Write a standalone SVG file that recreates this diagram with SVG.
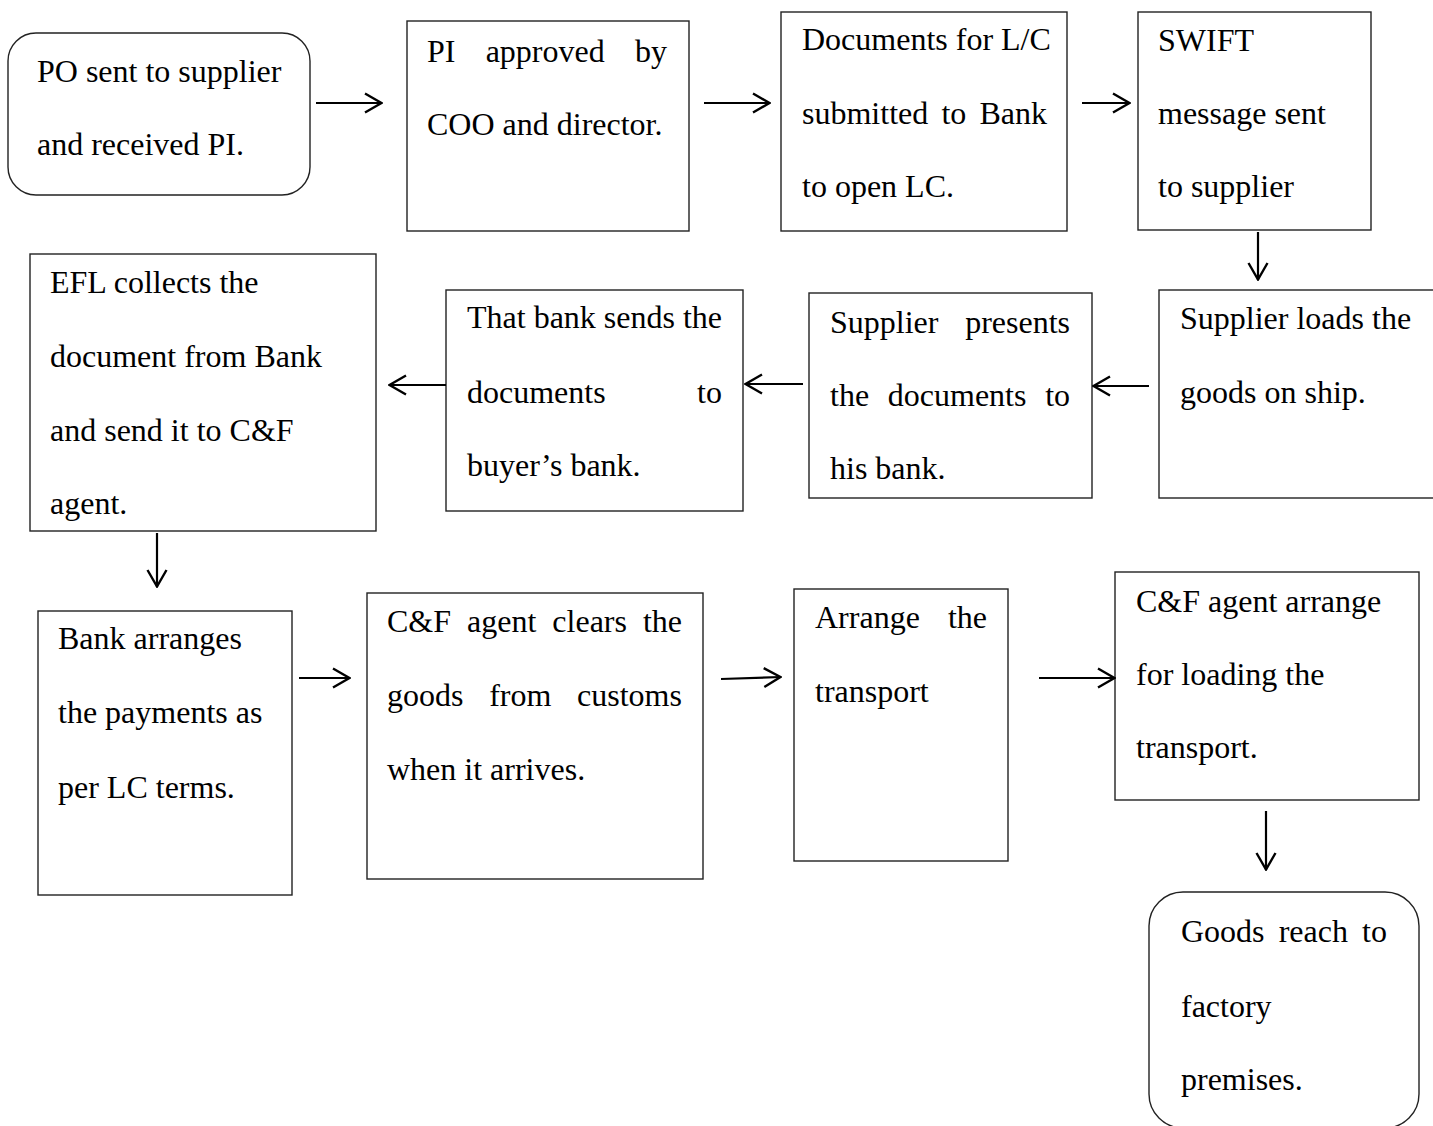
<svg xmlns="http://www.w3.org/2000/svg" width="1433" height="1126" viewBox="0 0 1433 1126">
<style>
.box{fill:#fff;stroke:#222;stroke-width:1.4}
.t{font-family:"Liberation Serif","Times New Roman",serif;font-size:32px;fill:#000}
.c{stroke:#000;stroke-width:2.2;fill:none;marker-end:url(#ah)}
</style>
<defs>
<marker id="ah" viewBox="0 0 20 22" refX="19" refY="11" markerWidth="20" markerHeight="22" markerUnits="userSpaceOnUse" orient="auto">
<path d="M2,1.5 L18.5,11 L2,20.5" fill="none" stroke="#000" stroke-width="2.4"/>
</marker>
</defs>
<rect width="1433" height="1126" fill="#fff"/>

<g id="n1"><rect class="box" x="8" y="33" width="302" height="162" rx="28"/>
<text class="t" x="37" y="82">PO sent to supplier</text>
<text class="t" x="37" y="155">and received PI.</text></g>

<g id="n2"><rect class="box" x="407" y="21" width="282" height="210"/>
<text class="t" x="427" y="62" word-spacing="22.2">PI approved by</text>
<text class="t" x="427" y="135">COO and director.</text></g>

<g id="n3"><rect class="box" x="781" y="12" width="286" height="219"/>
<text class="t" x="802" y="50">Documents for L/C</text>
<text class="t" x="802" y="124" word-spacing="5.2">submitted to Bank</text>
<text class="t" x="802" y="197">to open LC.</text></g>

<g id="n4"><rect class="box" x="1138" y="12" width="233" height="218"/>
<text class="t" x="1158" y="51">SWIFT</text>
<text class="t" x="1158" y="124">message sent</text>
<text class="t" x="1158" y="197">to supplier</text></g>

<g id="n5"><rect class="box" x="1159" y="290" width="290" height="208"/>
<text class="t" x="1180" y="329">Supplier loads the</text>
<text class="t" x="1180" y="403">goods on ship.</text></g>

<g id="n6"><rect class="box" x="809" y="293" width="283" height="205"/>
<text class="t" x="830" y="333" word-spacing="18.7">Supplier presents</text>
<text class="t" x="830" y="406" word-spacing="10.7">the documents to</text>
<text class="t" x="830" y="479">his bank.</text></g>

<g id="n7"><rect class="box" x="446" y="290" width="297" height="221"/>
<text class="t" x="467" y="328">That bank sends the</text>
<text class="t" x="467" y="403" word-spacing="83.4">documents to</text>
<text class="t" x="467" y="476">buyer’s bank.</text></g>

<g id="n8"><rect class="box" x="30" y="254" width="346" height="277"/>
<text class="t" x="50" y="293">EFL collects the</text>
<text class="t" x="50" y="367">document from Bank</text>
<text class="t" x="50" y="441">and send it to C&amp;F</text>
<text class="t" x="50" y="514">agent.</text></g>

<g id="n9"><rect class="box" x="38" y="611" width="254" height="284"/>
<text class="t" x="58" y="649">Bank arranges</text>
<text class="t" x="58" y="723">the payments as</text>
<text class="t" x="58" y="798">per LC terms.</text></g>

<g id="n10"><rect class="box" x="367" y="593" width="336" height="286"/>
<text class="t" x="387" y="632" word-spacing="8">C&amp;F agent clears the</text>
<text class="t" x="387" y="706" word-spacing="17.7">goods from customs</text>
<text class="t" x="387" y="780">when it arrives.</text></g>

<g id="n11"><rect class="box" x="794" y="589" width="214" height="272"/>
<text class="t" x="815" y="628" word-spacing="20.1">Arrange the</text>
<text class="t" x="815" y="702">transport</text></g>

<g id="n12"><rect class="box" x="1115" y="572" width="304" height="228"/>
<text class="t" x="1136" y="612">C&amp;F agent arrange</text>
<text class="t" x="1136" y="685">for loading the</text>
<text class="t" x="1136" y="758">transport.</text></g>

<g id="n13"><rect class="box" x="1149" y="892" width="270" height="236" rx="34"/>
<text class="t" x="1181" y="942" word-spacing="6.1">Goods reach to</text>
<text class="t" x="1181" y="1017">factory</text>
<text class="t" x="1181" y="1090">premises.</text></g>

<g id="connectors">
<line class="c" x1="316" y1="103" x2="382" y2="103"/>
<line class="c" x1="704" y1="103" x2="770" y2="103"/>
<line class="c" x1="1082" y1="103" x2="1130" y2="103"/>
<line class="c" x1="1258" y1="232" x2="1258" y2="280"/>
<line class="c" x1="1149" y1="386" x2="1093" y2="386"/>
<line class="c" x1="803" y1="384" x2="745" y2="384"/>
<line class="c" x1="446" y1="385" x2="389" y2="385"/>
<line class="c" x1="157" y1="533" x2="157" y2="587"/>
<line class="c" x1="299" y1="678" x2="350" y2="678"/>
<line class="c" x1="721" y1="679" x2="781" y2="677"/>
<line class="c" x1="1039" y1="678" x2="1115" y2="678"/>
<line class="c" x1="1266" y1="811" x2="1266" y2="870"/>
</g>
</svg>
